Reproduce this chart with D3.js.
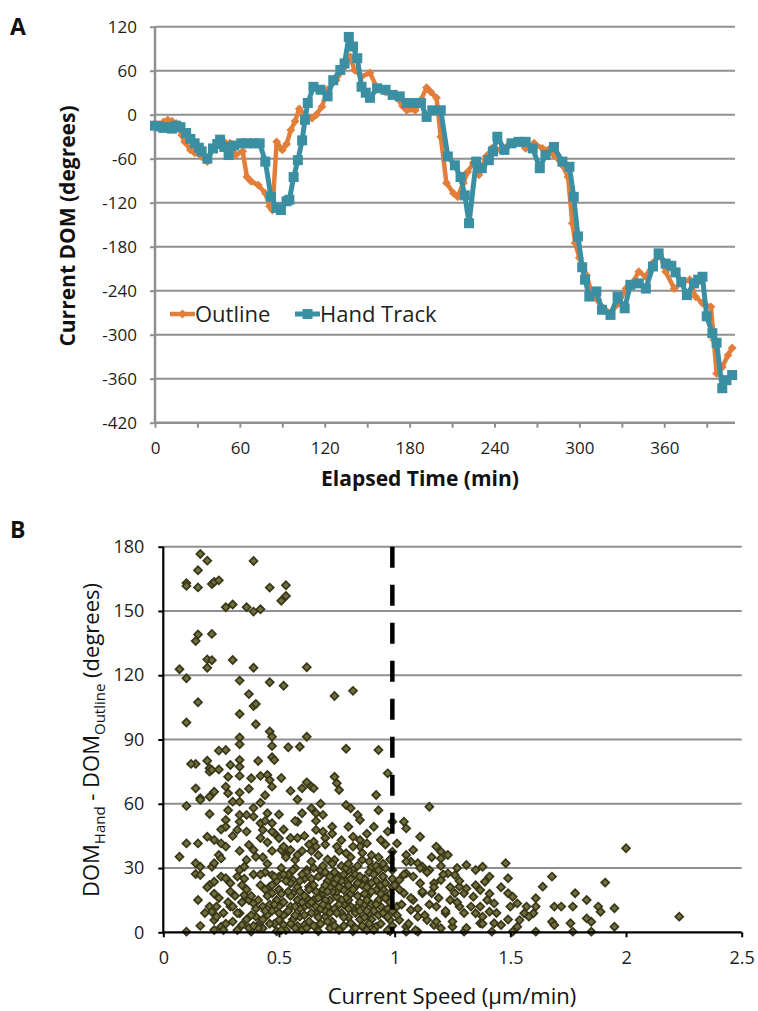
<!DOCTYPE html>
<html>
<head>
<meta charset="UTF-8">
<title>DOM charts</title>
<script src="https://cdn.jsdelivr.net/npm/d3@7"></script>
<style>
  body { margin: 0; background: #fff; }
  svg { display: block; }
  .tick text { fill: #1c1c1c; }
</style>
</head>
<body>
<svg id="chart" width="758" height="1011"></svg>
<script>
// ---- panel A: current DOM over time ----
const outlineTime = [0,3,6,9,12,15,19,21,25,28,33,37,41,46,50,53,57,62,65,68,73,78,81,83,86,90,93,96,99,102,106,111,114,118,122,128,134,138,141,146,152,157,163,167,171,175,178,184,188,192,195,199,202,206,211,214,218,221,225,229,234,238,244,251,257,262,268,274,278,282,288,292,295,297,300,302,305,308,313,317,322,328,333,338,342,347,352,357,361,367,372,378,382,387,393,395,397,401,405,408];
const outlineDom = [-12,-14,-10,-7,-9,-12,-28,-37,-48,-52,-57,-64,-46,-36,-39,-39,-55,-50,-85,-91,-96,-107,-125,-130,-37,-48,-40,-21,-9,8,0,-5,0,11,34,47,65,79,61,52,57,36,31,27,23,12,6,6,20,37,31,23,-30,-93,-107,-112,-93,-78,-66,-82,-57,-46,-48,-39,-37,-46,-39,-46,-48,-55,-69,-85,-148,-175,-195,-205,-219,-239,-253,-264,-270,-257,-237,-228,-214,-221,-202,-191,-214,-237,-230,-225,-248,-257,-262,-307,-353,-344,-328,-318];

const handTime = [0,3,6,9,12,15,18,22,25,28,31,33,37,41,44,46,49,52,56,61,65,70,74,78,82,86,89,93,95,98,101,104,106,108,112,117,122,126,131,134,137,140,143,146,149,152,157,163,168,173,178,183,188,192,196,202,207,212,216,219,222,227,231,236,239,242,247,252,257,262,267,272,276,282,288,293,296,299,302,304,307,312,316,322,327,332,336,342,347,352,356,361,365,368,372,376,381,384,387,390,394,397,401,404,408];
const handDom = [-15,-16,-18,-17,-19,-15,-17,-25,-33,-39,-45,-50,-60,-46,-40,-34,-44,-55,-42,-39,-39,-39,-39,-64,-112,-127,-130,-118,-116,-85,-62,-35,-7,16,38,34,25,47,61,70,106,93,77,38,30,23,36,34,27,25,16,16,16,-3,6,6,-57,-69,-85,-110,-148,-64,-73,-62,-50,-30,-48,-39,-37,-37,-46,-73,-55,-44,-64,-71,-112,-166,-208,-225,-248,-241,-266,-273,-248,-264,-232,-230,-237,-207,-189,-203,-206,-215,-228,-246,-230,-225,-221,-275,-298,-311,-373,-362,-355];

const timeTicks = [0,30,60,90,120,150,180,210,240,270,300,330,360,390];
const domTicks = [-420,-360,-300,-240,-180,-120,-60,0,60,120];

// ---- panel B: DOM difference vs current speed, [speed, difference] ----
const speedDiff = [
  [0.16,176.6],[0.19,173.5],[0.15,169],[0.10,163],[0.10,161.7],[0.15,161],[0.21,162.6],[0.22,163.5],[0.24,164.3],[0.39,173.3],
  [0.27,151.7],[0.30,153],[0.36,151.7],[0.39,149.7],[0.42,150.8],[0.46,160.9],[0.53,162],[0.53,157],[0.51,154.8],[0.14,136],
  [0.15,139],[0.21,139.3],[0.07,122.8],[0.10,118.6],[0.19,127.4],[0.19,123.5],[0.21,127],[0.30,127.1],[0.39,123.5],[0.62,123.7],
  [0.33,117.5],[0.46,116.7],[0.52,115.1],[0.15,107.4],[0.37,111.2],[0.39,105.6],[0.40,106.6],[0.33,101.9],[0.40,97.1],[0.10,97.9],
  [0.74,110.3],[0.82,112.7],[0.33,90.9],[0.33,87.8],[0.46,93.7],[0.47,91.3],[0.47,87],[0.47,81.7],[0.54,86.4],[0.59,86.6],
  [0.62,91.3],[0.79,85.7],[0.93,85.1],[0.24,84.8],[0.27,85.1],[0.14,78.6],[0.19,80.1],[0.29,78.1],[0.33,80.4],[0.20,76.6],
  [0.33,77.3],[0.12,78.6],[0.20,75],[0.21,75.8],[0.48,80.4],[0.14,67.2],[0.16,62.6],[0.16,61.8],[0.20,63.3],[0.22,65.6],
  [0.28,72.6],[0.28,64.9],[0.30,61],[0.33,65.2],[0.33,61],[0.38,71.9],[0.42,73],[0.45,73.4],[0.46,71.1],[0.47,68],
  [0.42,60.5],[0.10,59],[0.07,35.3],[0.10,41.5],[0.15,41.5],[0.20,55.2],[0.14,32.2],[0.16,30.6],[0.14,27.2],[0.16,26.7],
  [0.21,30.6],[0.22,32.2],[0.19,44.6],[0.22,43.1],[0.25,41.5],[0.27,40],[0.24,36.1],[0.25,34.5],[0.20,22.1],[0.22,23.6],
  [0.25,26],[0.27,52.4],[0.27,49.3],[0.32,47.8],[0.33,51.6],[0.27,25.2],[0.29,22.9],[0.32,26],[0.33,29.1],[0.35,30.6],
  [0.36,33.8],[0.37,40.8],[0.39,38.4],[0.40,35.3],[0.33,54.8],[0.36,54.8],[0.39,54],[0.42,50.9],[0.43,47.8],[0.45,55.6],
  [0.47,50.9],[0.48,46.2],[0.50,43.9],[0.51,38.4],[0.53,36.1],[0.55,38.4],[0.57,33.8],[0.58,36.1],[0.60,67.2],[0.64,68],
  [0.65,67.2],[0.58,51.6],[0.60,55.6],[0.64,57.9],[0.66,55.6],[0.69,54.8],[0.66,47.8],[0.65,42.3],[0.66,40],[0.69,47],
  [0.73,49.3],[0.74,72.6],[0.75,69.6],[0.76,66.4],[0.79,59.4],[0.81,57.9],[0.84,54.8],[0.85,52.4],[0.80,49.3],[0.82,44.6],
  [0.85,43.1],[0.88,41.5],[0.91,49.3],[0.92,64.1],[0.94,43.1],[0.97,74.2],[0.97,47],[0.99,51.6],[0.99,37.6],
  [0.10,0.3],[0.15,15.1],[0.20,12],[0.21,9.6],[0.22,5.7],[0.23,7.3],[0.25,2.6],[0.22,1.1],[0.26,1.1],[0.29,12],
  [0.30,12],[0.33,8.9],[0.34,3.4],[0.35,17.4],[0.37,15.1],[0.39,13.5],[0.38,0.3],[0.40,7.3],[0.41,3.4],[0.43,1.9],
  [0.43,12],[0.45,8.1],[0.46,21.3],[0.47,18.2],[0.47,26.7],[0.50,26],[0.49,15.1],[0.50,12],[0.50,5.7],[0.52,3.4],
  [0.53,8.9],[0.55,12],[0.55,22.9],[0.56,24.4],[0.56,18.2],[0.58,15.1],[0.59,7.3],[0.61,12],[0.61,3.4],[0.62,29.1],
  [0.63,21.3],[0.65,15.1],[0.66,8.9],[0.66,2.6],[0.68,26.7],[0.69,18.2],[0.70,7.3],[0.71,12],[0.72,1.9],[0.74,22.9],
  [0.74,33.8],[0.75,16.6],[0.76,26],[0.77,8.9],[0.78,19.7],[0.79,36.9],[0.80,15.1],[0.81,4.2],[0.82,29.1],[0.83,21.3],
  [0.84,12],[0.86,33.8],[0.86,2.6],[0.87,24.4],[0.88,16.6],[0.89,8.9],[0.90,30.6],[0.92,19.7],[0.92,2.6],[0.94,12],
  [0.95,26],[0.97,15.1],[0.98,5.7],[0.99,21.3],
  [0.42,22],[0.44,28],[0.45,17],[0.47,10],[0.48,4],[0.50,20],[0.51,30],[0.52,14],[0.53,1],[0.54,27],
  [0.55,17],[0.56,6],[0.57,30],[0.58,21],[0.59,11],[0.60,1],[0.61,25],[0.62,16],[0.63,5],[0.64,33],
  [0.65,22],[0.66,12],[0.67,0.5],[0.68,29],[0.69,20],[0.70,10],[0.71,24],[0.72,15],[0.73,5],[0.74,28],
  [0.75,19],[0.76,1],[0.77,31],[0.78,13],[0.79,24],[0.80,7],[0.81,18],[0.82,0.5],[0.83,27],[0.84,17],
  [0.85,6],[0.86,22],[0.87,13],[0.88,1],[0.89,28],[0.90,19],[0.91,10],[0.92,24],[0.93,15],[0.94,4],
  [0.95,20],[0.96,30],[0.97,11],[0.98,0.5],[0.99,25],[0.43,6],[0.46,13],[0.49,24],[0.52,8],[0.55,23],
  [0.58,3],[0.60,14],[0.62,28],[0.64,9],[0.66,19],[0.68,4],[0.70,15],[0.72,26],[0.74,11],[0.76,21],
  [0.78,3],[0.80,29],[0.82,11],[0.84,23],[0.86,3],[0.88,15],[0.90,6],[0.92,31],[0.94,18],[0.96,8],
  [0.41,2],[0.45,32],[0.50,9],[0.57,12],[0.63,20],[0.69,31],[0.73,19],[0.79,16],[0.83,9],[0.87,25],
  [0.91,1],[0.95,26],[0.38,8],[0.36,20],[0.37,2],[0.34,14],[0.35,25],[0.39,27],[0.40,11],[0.43,35],
  [0.47,38],[0.53,35],[0.60,38],[0.67,36],[0.71,34],[0.76,38],[0.81,35],[0.86,37],[0.93,35],[0.98,34],
  [0.30,5],[0.32,1],[0.28,14],[0.26,9],[0.23,12],[0.22,18],[0.19,21],[0.16,3],
  [0.41,15],[0.44,20],[0.46,4],[0.48,26],[0.49,0.5],[0.51,18],[0.53,24],[0.54,10],[0.56,29],[0.57,2],
  [0.59,19],[0.60,27],[0.61,8],[0.63,13],[0.64,25],[0.65,3],[0.67,16],[0.68,11],[0.70,28],[0.71,5],
  [0.72,21],[0.73,32],[0.75,9],[0.77,24],[0.78,7],[0.79,30],[0.80,22],[0.81,12],[0.83,2],[0.84,31],
  [0.85,14],[0.87,7],[0.88,21],[0.89,33],[0.90,13],[0.91,27],[0.93,8],[0.94,22],[0.96,16],[0.97,1],
  [0.99,10],[0.31,17],[0.32,9],[0.34,22],[0.36,6],[0.38,17],[0.39,3],[0.27,4],[0.29,19],[0.24,16],
  [0.18,9],[0.45,42],[0.52,40],[0.58,44],[0.64,38],[0.70,44],[0.75,40],[0.80,32],[0.85,40],[0.90,36],[0.95,32],
  [0.44,10],[0.47,22],[0.51,1],[0.52,27],[0.54,19],[0.57,8],[0.59,24],[0.61,17],[0.62,2],[0.64,14],
  [0.67,26],[0.67,7],[0.69,13],[0.71,19],[0.72,9],[0.74,3],[0.75,25],[0.77,15],[0.78,27],[0.80,11],
  [0.81,25],[0.82,20],[0.85,10],[0.85,26],[0.87,18],[0.89,4],[0.90,23],[0.92,13],[0.93,29],[0.95,9],
  [0.96,23],[0.98,14],[0.99,3],[0.42,27],[0.48,13],[0.55,4],[0.65,30],[0.70,22],[0.76,13],[0.88,10],
  [0.25,48],[0.28,57],[0.30,45],[0.33,38],[0.36,47],[0.39,58],[0.42,44],[0.44,52],[0.47,47],[0.50,55],
  [0.52,48],[0.55,44],[0.57,52],[0.61,45],[0.63,41],[0.66,52],[0.70,41],[0.73,46],[0.77,43],[0.82,40],
  [0.88,46],[0.93,57],[0.96,41],[0.58,62],[0.62,70],[0.68,60],[0.55,66],[0.51,72],[0.44,64],[0.37,67],
  [0.33,73],[0.41,80],[0.27,68],[0.24,76],
  [1.15,58.6],[1.04,51.6],[1.05,48.5],[1.11,44.6],[1.01,41.5],[1.08,38.4],[1.05,36.1],[1.18,40],[1.20,37.6],[1.23,36.1],
  [1.20,34.5],[1.07,33],[1.10,32.2],[1.12,30.6],[1.15,29.1],[1.23,27.5],[1.26,26.7],[1.31,31.4],[1.35,29.1],[1.38,30.6],
  [1.48,32.2],[1.41,26],[1.39,23.6],[1.49,25.2],[1.68,26],[1.64,21.3],[1.91,23.2],[2.00,39.2],[2.23,7.3],[1.49,18.2],
  [1.51,16.6],[1.53,13.5],[1.50,12],[1.61,15.9],[1.61,12],[1.57,12],[1.56,8.9],[1.54,5.7],[1.60,8.9],[1.69,12],
  [1.72,12],[1.77,12],[1.78,18.2],[1.83,15.1],[1.88,12],[1.89,9.6],[1.95,11.2],[1.83,6.5],[1.85,4.9],[1.76,4.2],
  [1.68,4.9],[1.69,3.4],[1.95,2.6],[1.85,0.3],[1.77,0.3],[1.61,0.3],[1.51,0.3],[1.43,4.2],[1.46,3.4],[1.42,0.3],
  [1.38,7.3],[1.35,8.9],[1.37,12],[1.40,15.1],[1.43,13.5],[1.37,4.2],[1.30,0.3],[1.28,12],[1.30,18.2],[1.31,20.5],
  [1.28,21.3],[1.26,18.2],[1.24,15.1],[1.22,8.9],[1.25,2.6],[1.20,1.9],[1.17,3.4],[1.14,5.7],[1.18,12],[1.16,18.2],
  [1.17,22.9],[1.20,24.4],[1.11,22.9],[1.12,18.2],[1.08,15.1],[1.07,10.4],[1.10,7.3],[1.10,0.3],[1.05,2.6],[1.02,5.7],
  [1.01,12],[1.04,18.2],[1.02,24.4],[1.05,27.5],[0.99,29.1],[0.98,18.2],[0.97,7.3],[1.05,0.3],[1.37,19.7],[1.34,16.6],
  [1.41,9.6],[1.53,2.6],[1.58,7.3],
  [1.01,8],[1.02,20],[1.03,13],[1.04,27],[1.06,4],[1.07,16],[1.08,26],[1.09,1],[1.10,11],[1.12,19],
  [1.13,8],[1.14,28],[1.15,13],[1.17,21],[1.18,5],[1.19,16],[1.21,27],[1.22,10],[1.24,21],[1.25,5],
  [1.27,14],[1.28,24],[1.30,9],[1.31,2],[1.33,12],[1.35,22],[1.38,4],[1.41,18],[1.44,9],[1.46,21],
  [1.49,6],[1.05,33],[1.11,30],[1.20,31],[1.27,30],[1.00,22],[1.16,35]
];
const speedTicks = [0,0.5,1,1.5,2,2.5];
const diffTicks = [0,30,60,90,120,150,180];
const speedThreshold = 0.99;

const ORANGE = '#e37d3a';
const TEAL = '#3b8fa2';
const GRID = '#8f8f8f';
const FONT = '"Open Sans", "DejaVu Sans", sans-serif';

const svg = d3.select('#chart');
svg.append('rect').attr('width', 758).attr('height', 1011).attr('fill', '#fff');

// ================= Panel A =================
const xA = d3.scaleLinear().domain([0, 410]).range([155, 735]);
const yA = d3.scaleLinear().domain([-420, 120]).range([422.7, 26.7]);

const gA = svg.append('g');

// horizontal grid
gA.selectAll('.gridA')
  .data(domTicks.filter(d => d > -420))
  .enter()
  .append('line')
  .attr('x1', xA(0)).attr('x2', xA(410))
  .attr('y1', d => yA(d)).attr('y2', d => yA(d))
  .attr('stroke', GRID).attr('stroke-width', 2);

// axes (hyphen minus like the original, not d3's unicode minus)
const axisA_x = gA.append('g')
  .attr('transform', `translate(0,${yA(-420)})`)
  .call(d3.axisBottom(xA).tickValues(timeTicks).tickSize(5).tickPadding(14)
    .tickFormat(d => d % 60 === 0 ? String(d) : ''));
axisA_x.select('.domain').attr('stroke', GRID).attr('stroke-width', 2.5)
  .attr('d', `M${xA(0)},0H${xA(410)}`);
axisA_x.selectAll('.tick line').attr('stroke', GRID).attr('stroke-width', 2);

const axisA_y = gA.append('g')
  .attr('transform', `translate(${xA(0)},0)`)
  .call(d3.axisLeft(yA).tickValues(domTicks).tickSize(5).tickPadding(13)
    .tickFormat(d => String(d)));
axisA_y.select('.domain').attr('stroke', GRID).attr('stroke-width', 2.5)
  .attr('d', `M0,${yA(-420)}V${yA(120)}`);
axisA_y.selectAll('.tick line').attr('stroke', GRID).attr('stroke-width', 2);

[axisA_x, axisA_y].forEach(a => a.selectAll('text')
  .style('font-family', FONT).style('font-size', '17px'));

// lines
const outlineData = outlineTime.map((t, i) => ({ t, v: outlineDom[i] }));
const handData = handTime.map((t, i) => ({ t, v: handDom[i] }));
const lineA = d3.line().x(d => xA(d.t)).y(d => yA(d.v));

gA.append('path').datum(outlineData)
  .attr('d', lineA).attr('fill', 'none')
  .attr('stroke', ORANGE).attr('stroke-width', 4.5).attr('stroke-linejoin', 'round');
gA.selectAll('.mkO').data(outlineData).enter()
  .append('path')
  .attr('d', d3.symbol().type(d3.symbolDiamond2).size(50))
  .attr('transform', d => `translate(${xA(d.t)},${yA(d.v)})`)
  .attr('fill', ORANGE);

gA.append('path').datum(handData)
  .attr('d', lineA).attr('fill', 'none')
  .attr('stroke', TEAL).attr('stroke-width', 5).attr('stroke-linejoin', 'round');
gA.selectAll('.mkH').data(handData).enter()
  .append('rect')
  .attr('x', d => xA(d.t) - 5).attr('y', d => yA(d.v) - 5)
  .attr('width', 10).attr('height', 10)
  .attr('fill', TEAL);

// legend
const legA = gA.append('g').attr('transform', 'translate(170,314)');
legA.append('line').attr('x1', 0).attr('x2', 25).attr('stroke', ORANGE).attr('stroke-width', 4.5);
legA.append('path').attr('d', d3.symbol().type(d3.symbolDiamond2).size(50))
  .attr('transform', 'translate(12.5,0)').attr('fill', ORANGE);
legA.append('text').attr('x', 25).attr('y', 8)
  .style('font-family', FONT).style('font-size', '22px').attr('fill', '#222').text('Outline');
legA.append('line').attr('x1', 125).attr('x2', 150).attr('stroke', TEAL).attr('stroke-width', 5);
legA.append('rect').attr('x', 132.5).attr('y', -5).attr('width', 10).attr('height', 10).attr('fill', TEAL);
legA.append('text').attr('x', 150).attr('y', 8)
  .style('font-family', FONT).style('font-size', '22px').attr('fill', '#222').text('Hand Track');

// labels
svg.append('text').attr('x', 10).attr('y', 35)
  .style('font-family', FONT).style('font-size', '23px').style('font-weight', 'bold')
  .attr('fill', '#111').text('A');
svg.append('text').attr('x', 420).attr('y', 486).attr('text-anchor', 'middle')
  .style('font-family', FONT).style('font-size', '21px').style('font-weight', 'bold')
  .attr('fill', '#111').text('Elapsed Time (min)');
svg.append('text').attr('transform', 'translate(75,226) rotate(-90)').attr('text-anchor', 'middle')
  .style('font-family', FONT).style('font-size', '21px').style('font-weight', 'bold')
  .attr('fill', '#111').text('Current DOM (degrees)');

// ================= Panel B =================
const xB = d3.scaleLinear().domain([0, 2.5]).range([163.3, 741.7]);
const yB = d3.scaleLinear().domain([0, 180]).range([932.3, 546.7]);
const gB = svg.append('g');

gB.selectAll('.gridB')
  .data(diffTicks.filter(d => d > 0))
  .enter()
  .append('line')
  .attr('x1', xB(0)).attr('x2', xB(2.5))
  .attr('y1', d => yB(d)).attr('y2', d => yB(d))
  .attr('stroke', GRID).attr('stroke-width', 2);

// points
gB.selectAll('.pt').data(speedDiff).enter()
  .append('path')
  .attr('d', d3.symbol().type(d3.symbolSquare).size(32))
  .attr('transform', d => `translate(${xB(d[0])},${yB(d[1])}) rotate(45)`)
  .attr('fill', '#726f3d').attr('stroke', '#383619').attr('stroke-width', 1.7);

// dashed threshold
gB.append('line')
  .attr('x1', xB(speedThreshold)).attr('x2', xB(speedThreshold))
  .attr('y1', yB(180)).attr('y2', yB(0))
  .attr('stroke', '#000').attr('stroke-width', 4.5).attr('stroke-dasharray', '21,17');

const axisB_x = gB.append('g')
  .attr('transform', `translate(0,${yB(0)})`)
  .call(d3.axisBottom(xB).tickValues(speedTicks).tickSize(5).tickPadding(14)
    .tickFormat(d => String(d)));
axisB_x.select('.domain').attr('stroke', '#000').attr('stroke-width', 2.2)
  .attr('d', `M${xB(0)},0H${xB(2.5)}`);
axisB_x.selectAll('.tick line').attr('stroke', '#000').attr('stroke-width', 2);

const axisB_y = gB.append('g')
  .attr('transform', `translate(${xB(0)},0)`)
  .call(d3.axisLeft(yB).tickValues(diffTicks).tickSize(5).tickPadding(14)
    .tickFormat(d => String(d)));
axisB_y.select('.domain').attr('stroke', '#000').attr('stroke-width', 2.2)
  .attr('d', `M0,${yB(0)}V${yB(180)}`);
axisB_y.selectAll('.tick line').attr('stroke', '#000').attr('stroke-width', 2);

[axisB_x, axisB_y].forEach(a => a.selectAll('text')
  .style('font-family', FONT).style('font-size', '18px'));

svg.append('text').attr('x', 10).attr('y', 538)
  .style('font-family', FONT).style('font-size', '23px').style('font-weight', 'bold')
  .attr('fill', '#111').text('B');

svg.append('text').attr('x', 452).attr('y', 1004).attr('text-anchor', 'middle')
  .style('font-family', FONT).style('font-size', '22px')
  .attr('fill', '#111').text('Current Speed (\u03bcm/min)');

const yLabB = svg.append('text').attr('transform', 'translate(99,740) rotate(-90)')
  .attr('text-anchor', 'middle')
  .style('font-family', FONT).style('font-size', '22px').attr('fill', '#111');
yLabB.append('tspan').text('DOM');
yLabB.append('tspan').attr('dy', 6).style('font-size', '15px').text('Hand');
yLabB.append('tspan').attr('dy', -6).text(' - DOM');
yLabB.append('tspan').attr('dy', 6).style('font-size', '15px').text('Outline');
yLabB.append('tspan').attr('dy', -6).text(' (degrees)');
</script>
</body>
</html>
